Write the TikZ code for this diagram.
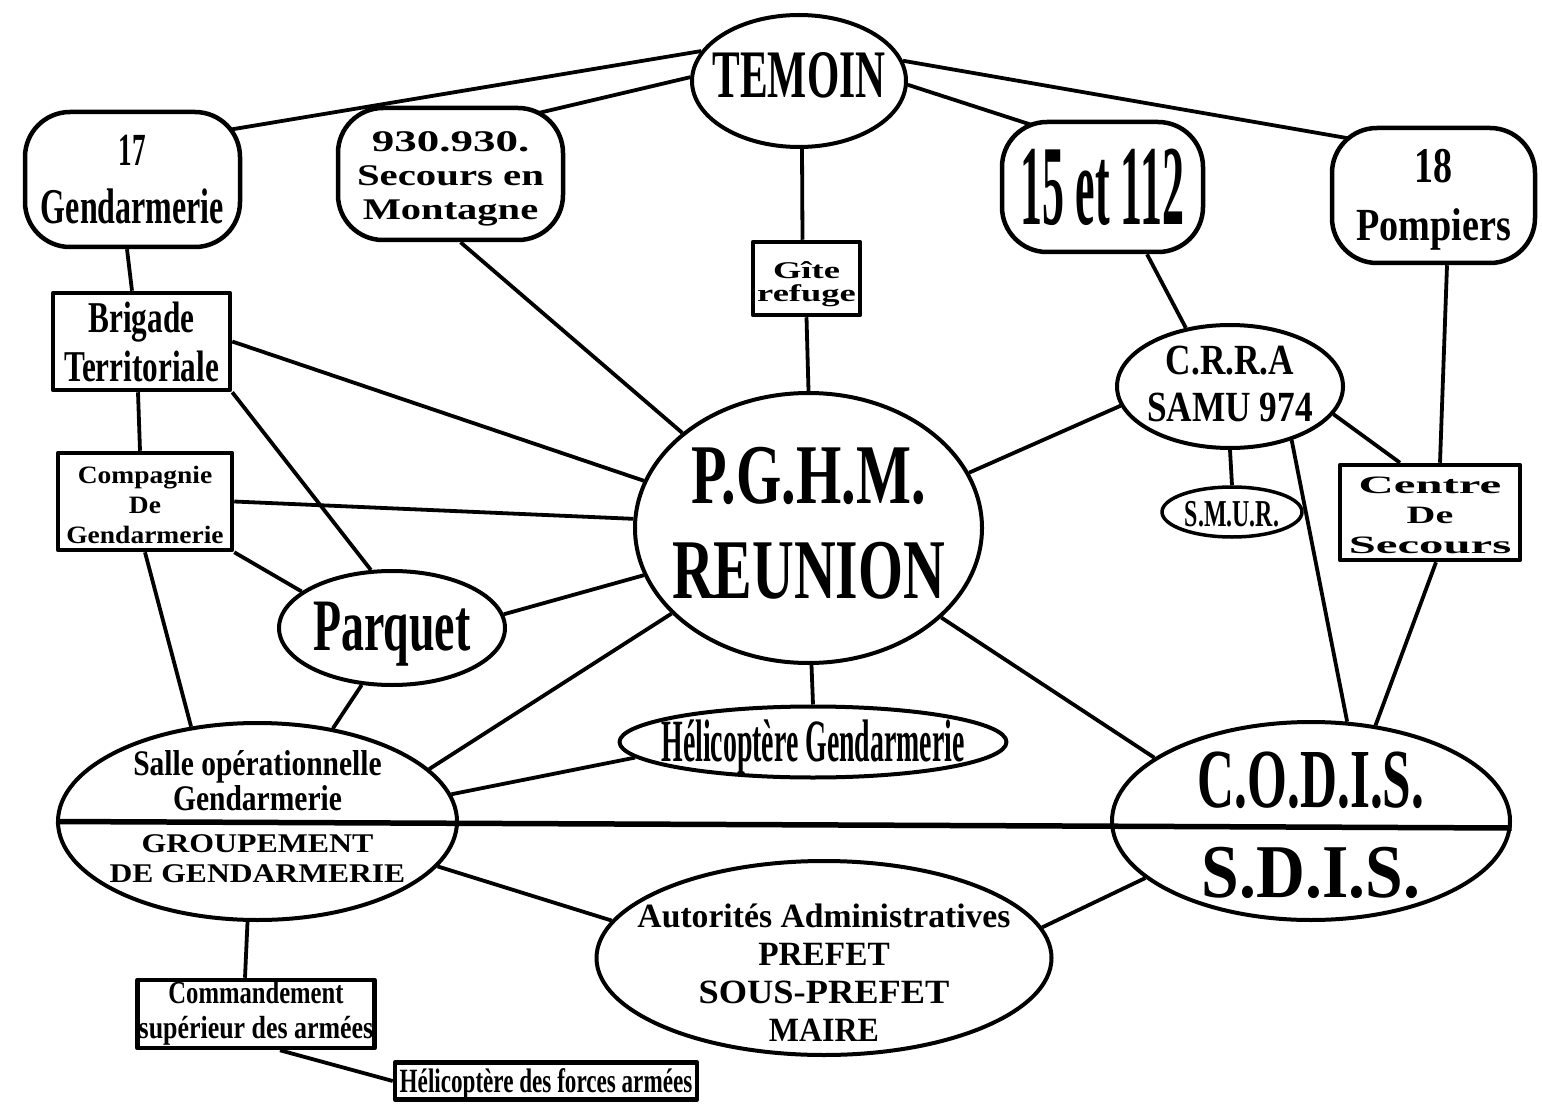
\documentclass[tikz,border=0pt]{standalone}
\usepackage{fontspec}
\setmainfont{Liberation Serif}
\usepackage{graphicx}
\usetikzlibrary{shapes.geometric}
\pgfdeclarelayer{bg}
\pgfsetlayers{bg,main}
\newcommand\cz[2][0pt]{\makebox[0pt]{\smash{\raisebox{\dimexpr(\depth-\height)/2+#1\relax}{#2}}}}
\newcommand\sx[2]{\scalebox{#1}[1]{#2}}
\newcommand\fs[2]{\fontsize{#1}{#2}\selectfont}
\newcommand\tb[1]{\begin{tabular}{@{}c@{}}#1\end{tabular}}
\tikzset{
  box/.style={draw, line width=4.5pt, fill=white, inner sep=0pt, rectangle, font=\bfseries},
  rbox/.style={box, rounded corners=#1},
  ell/.style={draw, line width=4pt, fill=white, inner sep=0pt, ellipse, font=\bfseries},
  conn/.style={line width=3.8pt},
}
\begin{document}
\begin{tikzpicture}[x=1pt,y=-1pt,line join=round]
\useasboundingbox (0,0) rectangle (1542,1107);
\begin{pgfonlayer}{bg}
\fill[white] (0,0) rectangle (1542,1107);
\end{pgfonlayer}

\node[ell, minimum width=214pt, minimum height=132pt] (temoin) at (799,81) {\cz[5.5pt]{\fs{68}{68}\sx{0.61}{TEMOIN}}};
\node[rbox=45pt, minimum width=215pt, minimum height=135pt] (g17) at (132.5,179.5) {\cz[-3pt]{\fs{50}{58}\tb{\fs{46}{58}\sx{.59}{17}\\\sx{.64}{Gendarmerie}}}};
\node[rbox=45pt, minimum width=225pt, minimum height=132pt] (s930) at (450.5,174) {\cz[-5pt]{\fs{30}{34}\tb{\sx{1.5}{930.930.}\\\sx{1.36}{Secours en}\\\sx{1.35}{Montagne}}}};
\node[rbox=45pt, minimum width=201pt, minimum height=130pt] (n15) at (1102.5,187) {\cz{\fs{114}{114}\sx{0.385}{15 et 112}}};
\node[rbox=45pt, minimum width=203pt, minimum height=135pt] (p18) at (1433.5,195.5) {\cz[-4pt]{\fs{50}{58}\tb{\sx{.76}{18}\\\fs{46}{58}\sx{.83}{Pompiers}}}};
\node[box, minimum width=107pt, minimum height=73pt] (gite) at (806.5,278.5) {\cz[-6.5pt]{\fs{24}{23}\sx{1.52}{\tb{Gîte\\refuge}}}};
\node[box, minimum width=177pt, minimum height=97pt] (brig) at (141.5,341.5) {\cz[-6pt]{\fs{44}{49}\sx{.71}{\tb{Brigade\\Territoriale}}}};
\node[box, minimum width=174pt, minimum height=97pt] (comp) at (145,501.5) {\cz[-5.5pt]{\fs{25}{30}\sx{1.1}{\tb{Compagnie\\De\\Gendarmerie}}}};
\node[ell, minimum width=226pt, minimum height=114pt] (parq) at (392,628) {\cz[-6pt]{\fs{74}{74}\sx{.62}{Parquet}}};
\node[ell, minimum width=347pt, minimum height=270pt] (pghm) at (808.5,528) {\cz[-3.5pt]{\fs{85}{95}\tb{\sx{.685}{P.G.H.M.}\\\sx{.68}{REUNION}}}};
\node[ell, minimum width=226pt, minimum height=123pt] (crra) at (1230,386.5) {\cz[-2.5pt]{\fs{43}{47}\sx{.82}{\tb{C.R.R.A\\SAMU 974}}}};
\node[ell, line width=3.5pt, minimum width=140pt, minimum height=50pt] (smur) at (1232,512) {\cz[-2.5pt]{\fs{38}{38}\sx{.63}{S.M.U.R.}}};
\node[box, minimum width=180pt, minimum height=95pt] (centre) at (1430,512.5) {\cz[-4.5pt]{\fs{25}{30}\tb{\sx{1.95}{Centre}\\\sx{1.6}{De}\\\sx{1.95}{Secours}}}};
\node[ell, minimum width=387pt, minimum height=71pt] (helg) at (813,742) {\cz[-5pt]{\fs{60}{60}\sx{.464}{Hélicoptère Gendarmerie}}};
\node[ell, minimum width=399pt, minimum height=197pt] (salle) at (257.5,821.5) {\cz[0.5pt]{\fs{36}{33}\tb{\sx{.82}{Salle opérationnelle}\\\sx{.82}{Gendarmerie}\\[9pt]\fs{27}{33}\sx{1.18}{GROUPEMENT}\\[-3pt]\fs{27}{33}\sx{1.17}{DE GENDARMERIE}}}};
\node[ell, minimum width=398pt, minimum height=198pt] (codis) at (1311,821) {\cz[-13pt]{\fs{84}{90}\tb{\sx{.61}{C.O.D.I.S.}\\\fs{76}{90}\sx{.89}{S.D.I.S.}}}};
\node[ell, minimum width=455pt, minimum height=194pt] (auto) at (824,958) {\cz[-18.4pt]{\fs{34}{38}\tb{\sx{.99}{Autorités Administratives}\\\sx{.98}{PREFET}\\\sx{1.07}{SOUS-PREFET}\\\sx{.94}{MAIRE}}}};
\node[box, minimum width=237pt, minimum height=68pt] (cmd) at (256,1014) {\cz{\fs{32}{35}\tb{\sx{.77}{Commandement}\\\sx{.81}{supérieur des armées}}}};
\node[box, minimum width=302pt, minimum height=37pt] (helf) at (546,1081) {\cz[-3pt]{\fs{34}{34}\sx{.68}{Hélicoptère des forces armées}}};

\begin{pgfonlayer}{bg}
\draw[conn] (temoin.163) -- ([shift={(89.5,-48.5)}]g17.center);
\draw[conn] (temoin.178) -- ([shift={(79.5,-59)}]s930.center);
\draw[conn] (temoin.-2) -- ([shift={(-67.5,-61)}]n15.center);
\draw[conn] (temoin.11) -- ([shift={(-75.5,-55.5)}]p18.center);
\draw[conn] ([xshift=3pt]temoin.south) -- ([xshift=-4pt]gite.north);
\draw[conn] (gite.south) -- (pghm.north);
\draw[conn] ([xshift=-5.5pt]g17.south) -- ([xshift=-9.5pt]brig.north);
\draw[conn] ([xshift=10pt]s930.south) -- (pghm.143);
\draw[conn] ([xshift=44.5pt]n15.south) -- (crra.127);
\draw[conn] ([xshift=13.5pt]p18.south) -- ([xshift=10pt]centre.north);
\draw[conn] (brig.east) -- (pghm.164);
\draw[conn] ([xshift=-3.5pt]brig.south) -- ([xshift=-5pt]comp.north);
\draw[conn] (brig.south east) -- (parq.110);
\draw[conn] (comp.east) -- (pghm.177.4);
\draw[conn] (comp.south east) -- (parq.158);
\draw[conn] (comp.south) -- (salle.125);
\draw[conn] (parq.7) -- (pghm.196.7);
\draw[conn] (parq.242) -- (salle.51);
\draw[conn] (pghm.212.7) -- (salle.17.5);
\draw[conn] ([xshift=3pt]pghm.south) -- (helg.north);
\draw[conn] (helg.185) -- (salle.8.6);
\draw[conn] (pghm.-34) -- (codis.158.3);
\draw[conn] (pghm.19.6) -- (crra.190.8);
\draw[conn] (crra.south) -- (smur.north);
\draw[conn] (crra.-15.5) -- ([xshift=-30pt]centre.north);
\draw[conn] (crra.-41.4) -- (codis.70);
\draw[conn] ([xshift=6pt]centre.south) -- (codis.56.3);
\draw[conn] (salle.-14.7) -- (auto.170);
\draw[conn] (codis.199.4) -- (auto.8.2);
\draw[conn] ([xshift=-10pt]salle.south) -- ([xshift=-11pt]cmd.north);
\draw[conn] ([xshift=24pt]cmd.south) -- (helf.west);
\end{pgfonlayer}
\draw[line width=5.5pt] (salle.west) -- (codis.-2);
\end{tikzpicture}
\end{document}
